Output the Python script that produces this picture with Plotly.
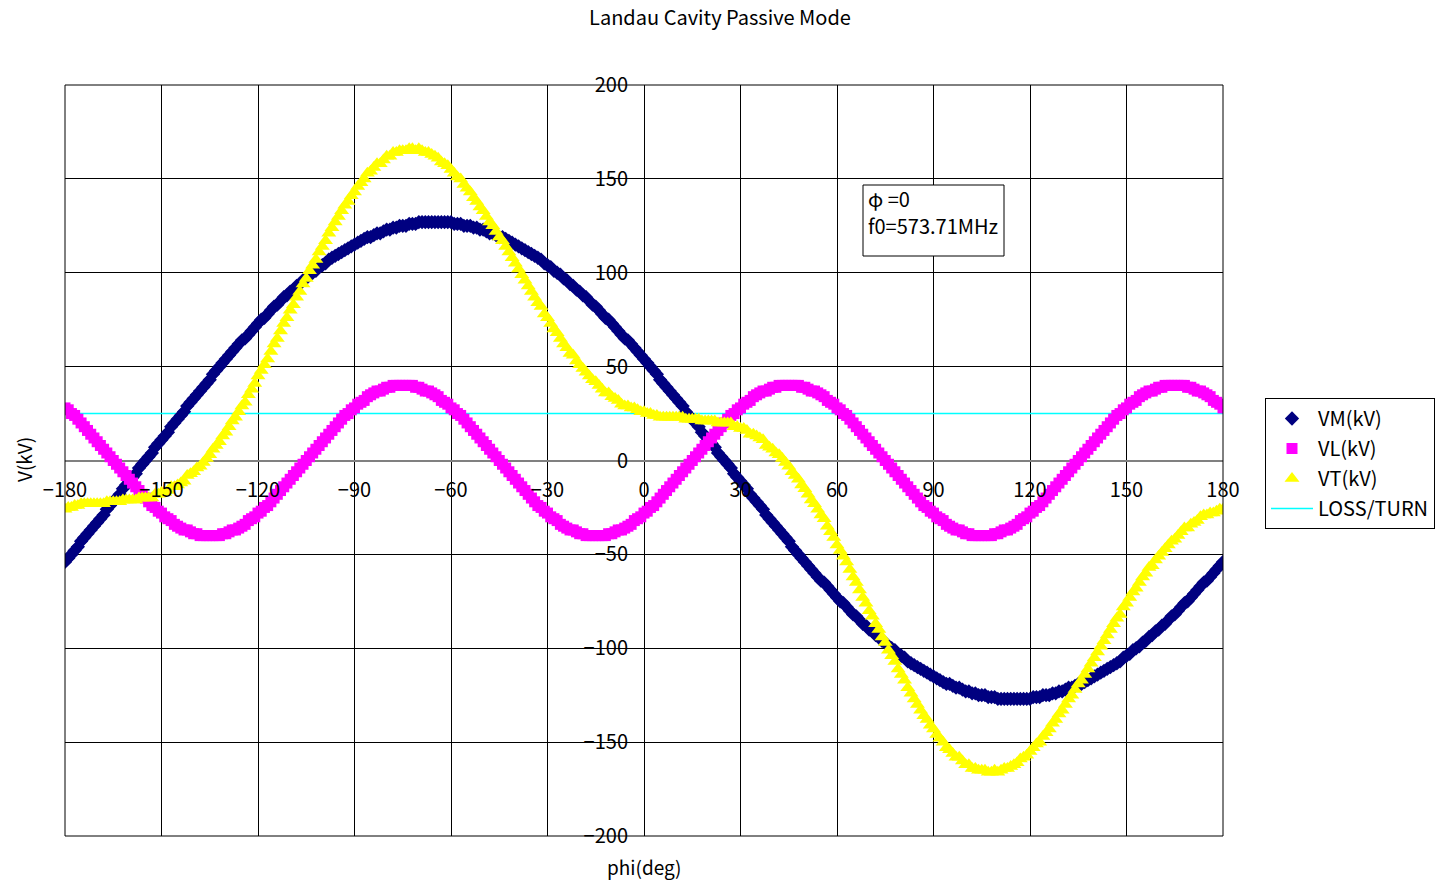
import plotly.graph_objects as go

# ---------------- data ----------------
phi = list(range(-180, 181))  # phase, deg (1-degree steps)

VM = [
    -54, -52, -50, -48, -46, -43, -41, -39, -37, -35,
    -33, -31, -29, -26, -24, -22, -20, -18, -15, -13,
    -11, -9, -7, -4, -2, 0, 2, 4, 7, 9,
    11, 13, 15, 18, 20, 22, 24, 26, 29, 31,
    33, 35, 37, 39, 41, 43, 46, 48, 50, 52,
    54, 56, 58, 60, 62, 64, 65, 67, 69, 71,
    73, 75, 76, 78, 80, 82, 83, 85, 87, 88,
    90, 91, 93, 94, 96, 97, 99, 100, 101, 103,
    104, 105, 107, 108, 109, 110, 111, 112, 113, 114,
    115, 116, 117, 118, 119, 119, 120, 121, 121, 122,
    123, 123, 124, 124, 125, 125, 125, 126, 126, 126,
    127, 127, 127, 127, 127, 127, 127, 127, 127, 127,
    127, 126, 126, 126, 125, 125, 125, 124, 124, 123,
    123, 122, 121, 121, 120, 119, 119, 118, 117, 116,
    115, 114, 113, 112, 111, 110, 109, 108, 107, 105,
    104, 103, 101, 100, 99, 97, 96, 94, 93, 91,
    90, 88, 87, 85, 83, 82, 80, 78, 76, 75,
    73, 71, 69, 67, 65, 64, 62, 60, 58, 56,
    54, 52, 50, 48, 46, 43, 41, 39, 37, 35,
    33, 31, 29, 26, 24, 22, 20, 18, 15, 13,
    11, 9, 7, 4, 2, 0, -2, -4, -7, -9,
    -11, -13, -15, -18, -20, -22, -24, -26, -29, -31,
    -33, -35, -37, -39, -41, -43, -46, -48, -50, -52,
    -54, -56, -58, -60, -62, -64, -65, -67, -69, -71,
    -73, -75, -76, -78, -80, -82, -83, -85, -87, -88,
    -90, -91, -93, -94, -96, -97, -99, -100, -101, -103,
    -104, -105, -107, -108, -109, -110, -111, -112, -113, -114,
    -115, -116, -117, -118, -119, -119, -120, -121, -121, -122,
    -123, -123, -124, -124, -125, -125, -125, -126, -126, -126,
    -127, -127, -127, -127, -127, -127, -127, -127, -127, -127,
    -127, -126, -126, -126, -125, -125, -125, -124, -124, -123,
    -123, -122, -121, -121, -120, -119, -119, -118, -117, -116,
    -115, -114, -113, -112, -111, -110, -109, -108, -107, -105,
    -104, -103, -101, -100, -99, -97, -96, -94, -93, -91,
    -90, -88, -87, -85, -83, -82, -80, -78, -76, -75,
    -73, -71, -69, -67, -65, -64, -62, -60, -58, -56,
    -54,
]

VL = [
    28, 27, 25, 24, 22, 20, 18, 16, 14, 12,
    10, 8, 6, 4, 2, 0, -2, -4, -6, -8,
    -10, -12, -14, -16, -18, -20, -22, -24, -25, -27,
    -28, -30, -31, -32, -34, -35, -36, -37, -37, -38,
    -39, -39, -40, -40, -40, -40, -40, -40, -40, -39,
    -39, -38, -37, -37, -36, -35, -34, -32, -31, -30,
    -28, -27, -25, -24, -22, -20, -18, -16, -14, -12,
    -10, -8, -6, -4, -2, 0, 2, 4, 6, 8,
    10, 12, 14, 16, 18, 20, 22, 24, 25, 27,
    28, 30, 31, 32, 34, 35, 36, 37, 37, 38,
    39, 39, 40, 40, 40, 40, 40, 40, 40, 39,
    39, 38, 37, 37, 36, 35, 34, 32, 31, 30,
    28, 27, 25, 24, 22, 20, 18, 16, 14, 12,
    10, 8, 6, 4, 2, 0, -2, -4, -6, -8,
    -10, -12, -14, -16, -18, -20, -22, -24, -25, -27,
    -28, -30, -31, -32, -34, -35, -36, -37, -37, -38,
    -39, -39, -40, -40, -40, -40, -40, -40, -40, -39,
    -39, -38, -37, -37, -36, -35, -34, -32, -31, -30,
    -28, -27, -25, -24, -22, -20, -18, -16, -14, -12,
    -10, -8, -6, -4, -2, 0, 2, 4, 6, 8,
    10, 12, 14, 16, 18, 20, 22, 24, 25, 27,
    28, 30, 31, 32, 34, 35, 36, 37, 37, 38,
    39, 39, 40, 40, 40, 40, 40, 40, 40, 39,
    39, 38, 37, 37, 36, 35, 34, 32, 31, 30,
    28, 27, 25, 24, 22, 20, 18, 16, 14, 12,
    10, 8, 6, 4, 2, 0, -2, -4, -6, -8,
    -10, -12, -14, -16, -18, -20, -22, -24, -25, -27,
    -28, -30, -31, -32, -34, -35, -36, -37, -37, -38,
    -39, -39, -40, -40, -40, -40, -40, -40, -40, -39,
    -39, -38, -37, -37, -36, -35, -34, -32, -31, -30,
    -28, -27, -25, -24, -22, -20, -18, -16, -14, -12,
    -10, -8, -6, -4, -2, 0, 2, 4, 6, 8,
    10, 12, 14, 16, 18, 20, 22, 24, 25, 27,
    28, 30, 31, 32, 34, 35, 36, 37, 37, 38,
    39, 39, 40, 40, 40, 40, 40, 40, 40, 39,
    39, 38, 37, 37, 36, 35, 34, 32, 31, 30,
    28,
]

VT = [
    -26, -25, -25, -24, -24, -23, -23, -23, -23, -23,
    -23, -23, -23, -22, -22, -22, -22, -22, -21, -21,
    -21, -21, -21, -20, -20, -20, -20, -20, -18, -18,
    -17, -17, -16, -14, -14, -13, -12, -11, -8, -7,
    -6, -4, -3, -1, 1, 3, 6, 8, 10, 13,
    15, 18, 21, 23, 26, 29, 31, 35, 38, 41,
    45, 48, 51, 54, 58, 62, 65, 69, 73, 76,
    80, 83, 87, 90, 94, 97, 101, 104, 107, 111,
    114, 117, 121, 124, 127, 130, 133, 136, 138, 141,
    143, 146, 148, 150, 153, 154, 156, 158, 158, 160,
    162, 162, 164, 164, 165, 165, 165, 166, 166, 165,
    166, 165, 164, 164, 163, 162, 161, 159, 158, 157,
    155, 153, 151, 150, 147, 145, 143, 140, 138, 135,
    133, 130, 127, 125, 122, 119, 117, 114, 111, 108,
    105, 102, 99, 96, 93, 90, 87, 84, 82, 78,
    76, 73, 70, 68, 65, 62, 60, 57, 56, 53,
    51, 49, 47, 45, 43, 42, 40, 38, 36, 36,
    34, 33, 32, 30, 29, 29, 28, 28, 27, 26,
    26, 25, 25, 24, 24, 23, 23, 23, 23, 23,
    23, 23, 23, 22, 22, 22, 22, 22, 21, 21,
    21, 21, 21, 20, 20, 20, 20, 20, 18, 18,
    17, 17, 16, 14, 14, 13, 12, 11, 8, 7,
    6, 4, 3, 1, -1, -3, -6, -8, -10, -13,
    -15, -18, -21, -23, -26, -29, -31, -35, -38, -41,
    -45, -48, -51, -54, -58, -62, -65, -69, -73, -76,
    -80, -83, -87, -90, -94, -97, -101, -104, -107, -111,
    -114, -117, -121, -124, -127, -130, -133, -136, -138, -141,
    -143, -146, -148, -150, -153, -154, -156, -158, -158, -160,
    -162, -162, -164, -164, -165, -165, -165, -166, -166, -165,
    -166, -165, -164, -164, -163, -162, -161, -159, -158, -157,
    -155, -153, -151, -150, -147, -145, -143, -140, -138, -135,
    -133, -130, -127, -125, -122, -119, -117, -114, -111, -108,
    -105, -102, -99, -96, -93, -90, -87, -84, -82, -78,
    -76, -73, -70, -68, -65, -62, -60, -57, -56, -53,
    -51, -49, -47, -45, -43, -42, -40, -38, -36, -36,
    -34, -33, -32, -30, -29, -29, -28, -28, -27, -26,
    -26,
]

loss_phi = [-180, 180]
loss_turn = [25, 25]

series_names = ["VM(kV)", "VL(kV)", "VT(kV)", "LOSS/TURN"]
title_text = "Landau Cavity Passive Mode"
x_title = "phi(deg)"
y_title = "V(kV)"
note_lines = ["φ =0", "f0=573.71MHz"]

# ---------------- figure ----------------
FONT = "Noto Sans CJK JP"
FS = 20
W, H = 1440, 880
ML, MR, MT, MB = 65, 217, 85, 44
PW, PH = W - ML - MR, H - MT - MB


def px(xp):
    return (xp - ML) / PW


def py(yp):
    return (H - MB - yp) / PH


fig = go.Figure()

fig.add_trace(go.Scatter(
    x=loss_phi, y=loss_turn, mode="lines", name=series_names[3],
    line=dict(color="#00FFFF", width=1.5),
    legendrank=4, legendgroup="d",
))
fig.add_trace(go.Scatter(
    x=phi, y=VM, mode="markers", name=series_names[0],
    marker=dict(symbol="diamond", size=11, color="#000080", line=dict(width=0)),
    legendrank=1, legendgroup="a",
))
fig.add_trace(go.Scatter(
    x=phi, y=VL, mode="markers", name=series_names[1],
    marker=dict(symbol="square", size=11, color="#FF00FF", line=dict(width=0)),
    legendrank=2, legendgroup="b",
))
fig.add_trace(go.Scatter(
    x=phi, y=VT, mode="markers", name=series_names[2],
    marker=dict(symbol="triangle-up", size=13, color="#FFFF00", line=dict(width=0)),
    legendrank=3, legendgroup="c",
))

fig.update_layout(
    width=W, height=H,
    margin=dict(l=ML, r=MR, t=MT, b=MB, pad=0, autoexpand=False),
    paper_bgcolor="white", plot_bgcolor="white",
    font=dict(family=FONT, size=FS, color="black"),
    showlegend=True,
    legend=dict(
        x=px(1265), y=py(398), xanchor="left", yanchor="top",
        bordercolor="black", borderwidth=1, bgcolor="white",
        font=dict(family=FONT, size=FS, color="black"),
        traceorder="grouped", tracegroupgap=1, itemwidth=42,
    ),
    title=dict(
        text=title_text, x=0.5, xref="container", xanchor="center",
        y=1 - 18 / H, yref="container", yanchor="middle",
        font=dict(family=FONT, size=FS, color="black"),
    ),
    xaxis=dict(
        range=[-180, 180], tick0=0, dtick=30, anchor="free", position=0.5,
        showgrid=True, gridcolor="black", gridwidth=1,
        zeroline=True, zerolinecolor="black", zerolinewidth=1,
        showline=False, ticks="", ticklabelstandoff=15, automargin=False,
        tickfont=dict(family=FONT, size=FS, color="black"),
    ),
    yaxis=dict(
        range=[-200, 200], tick0=0, dtick=50, anchor="free", position=0.5,
        showgrid=True, gridcolor="black", gridwidth=1,
        zeroline=True, zerolinecolor="#808080", zerolinewidth=2,
        showline=False, ticks="", ticklabelstandoff=16, automargin=False,
        tickfont=dict(family=FONT, size=FS, color="black"),
    ),
    shapes=[
        dict(type="rect", xref="paper", yref="paper", x0=0, x1=1, y0=0, y1=1,
             line=dict(color="black", width=1), fillcolor="rgba(0,0,0,0)", layer="above"),
        dict(type="rect", xref="paper", yref="paper",
             x0=px(863), x1=px(1004), y0=py(256), y1=py(185),
             line=dict(color="black", width=1), fillcolor="white", layer="above"),
    ],
    annotations=[
        dict(text=note_lines[0], xref="paper", yref="paper", x=px(866), y=py(199),
             xanchor="left", yanchor="middle", align="left", showarrow=False,
             font=dict(family=FONT, size=FS, color="black")),
        dict(text=note_lines[1], xref="paper", yref="paper", x=px(866), y=py(225),
             xanchor="left", yanchor="middle", align="left", showarrow=False,
             font=dict(family=FONT, size=FS, color="black")),
        dict(text=x_title, xref="paper", yref="paper", x=px(644), y=py(866),
             xanchor="center", yanchor="middle", showarrow=False,
             font=dict(family=FONT, size=19, color="black")),
        dict(text=y_title, xref="paper", yref="paper", x=px(24), y=py(460),
             xanchor="center", yanchor="middle", showarrow=False, textangle=-90,
             font=dict(family=FONT, size=19, color="black")),
    ],
)

fig.write_html("out.html", include_plotlyjs=True, full_html=True,
               config=dict(displayModeBar=False))
